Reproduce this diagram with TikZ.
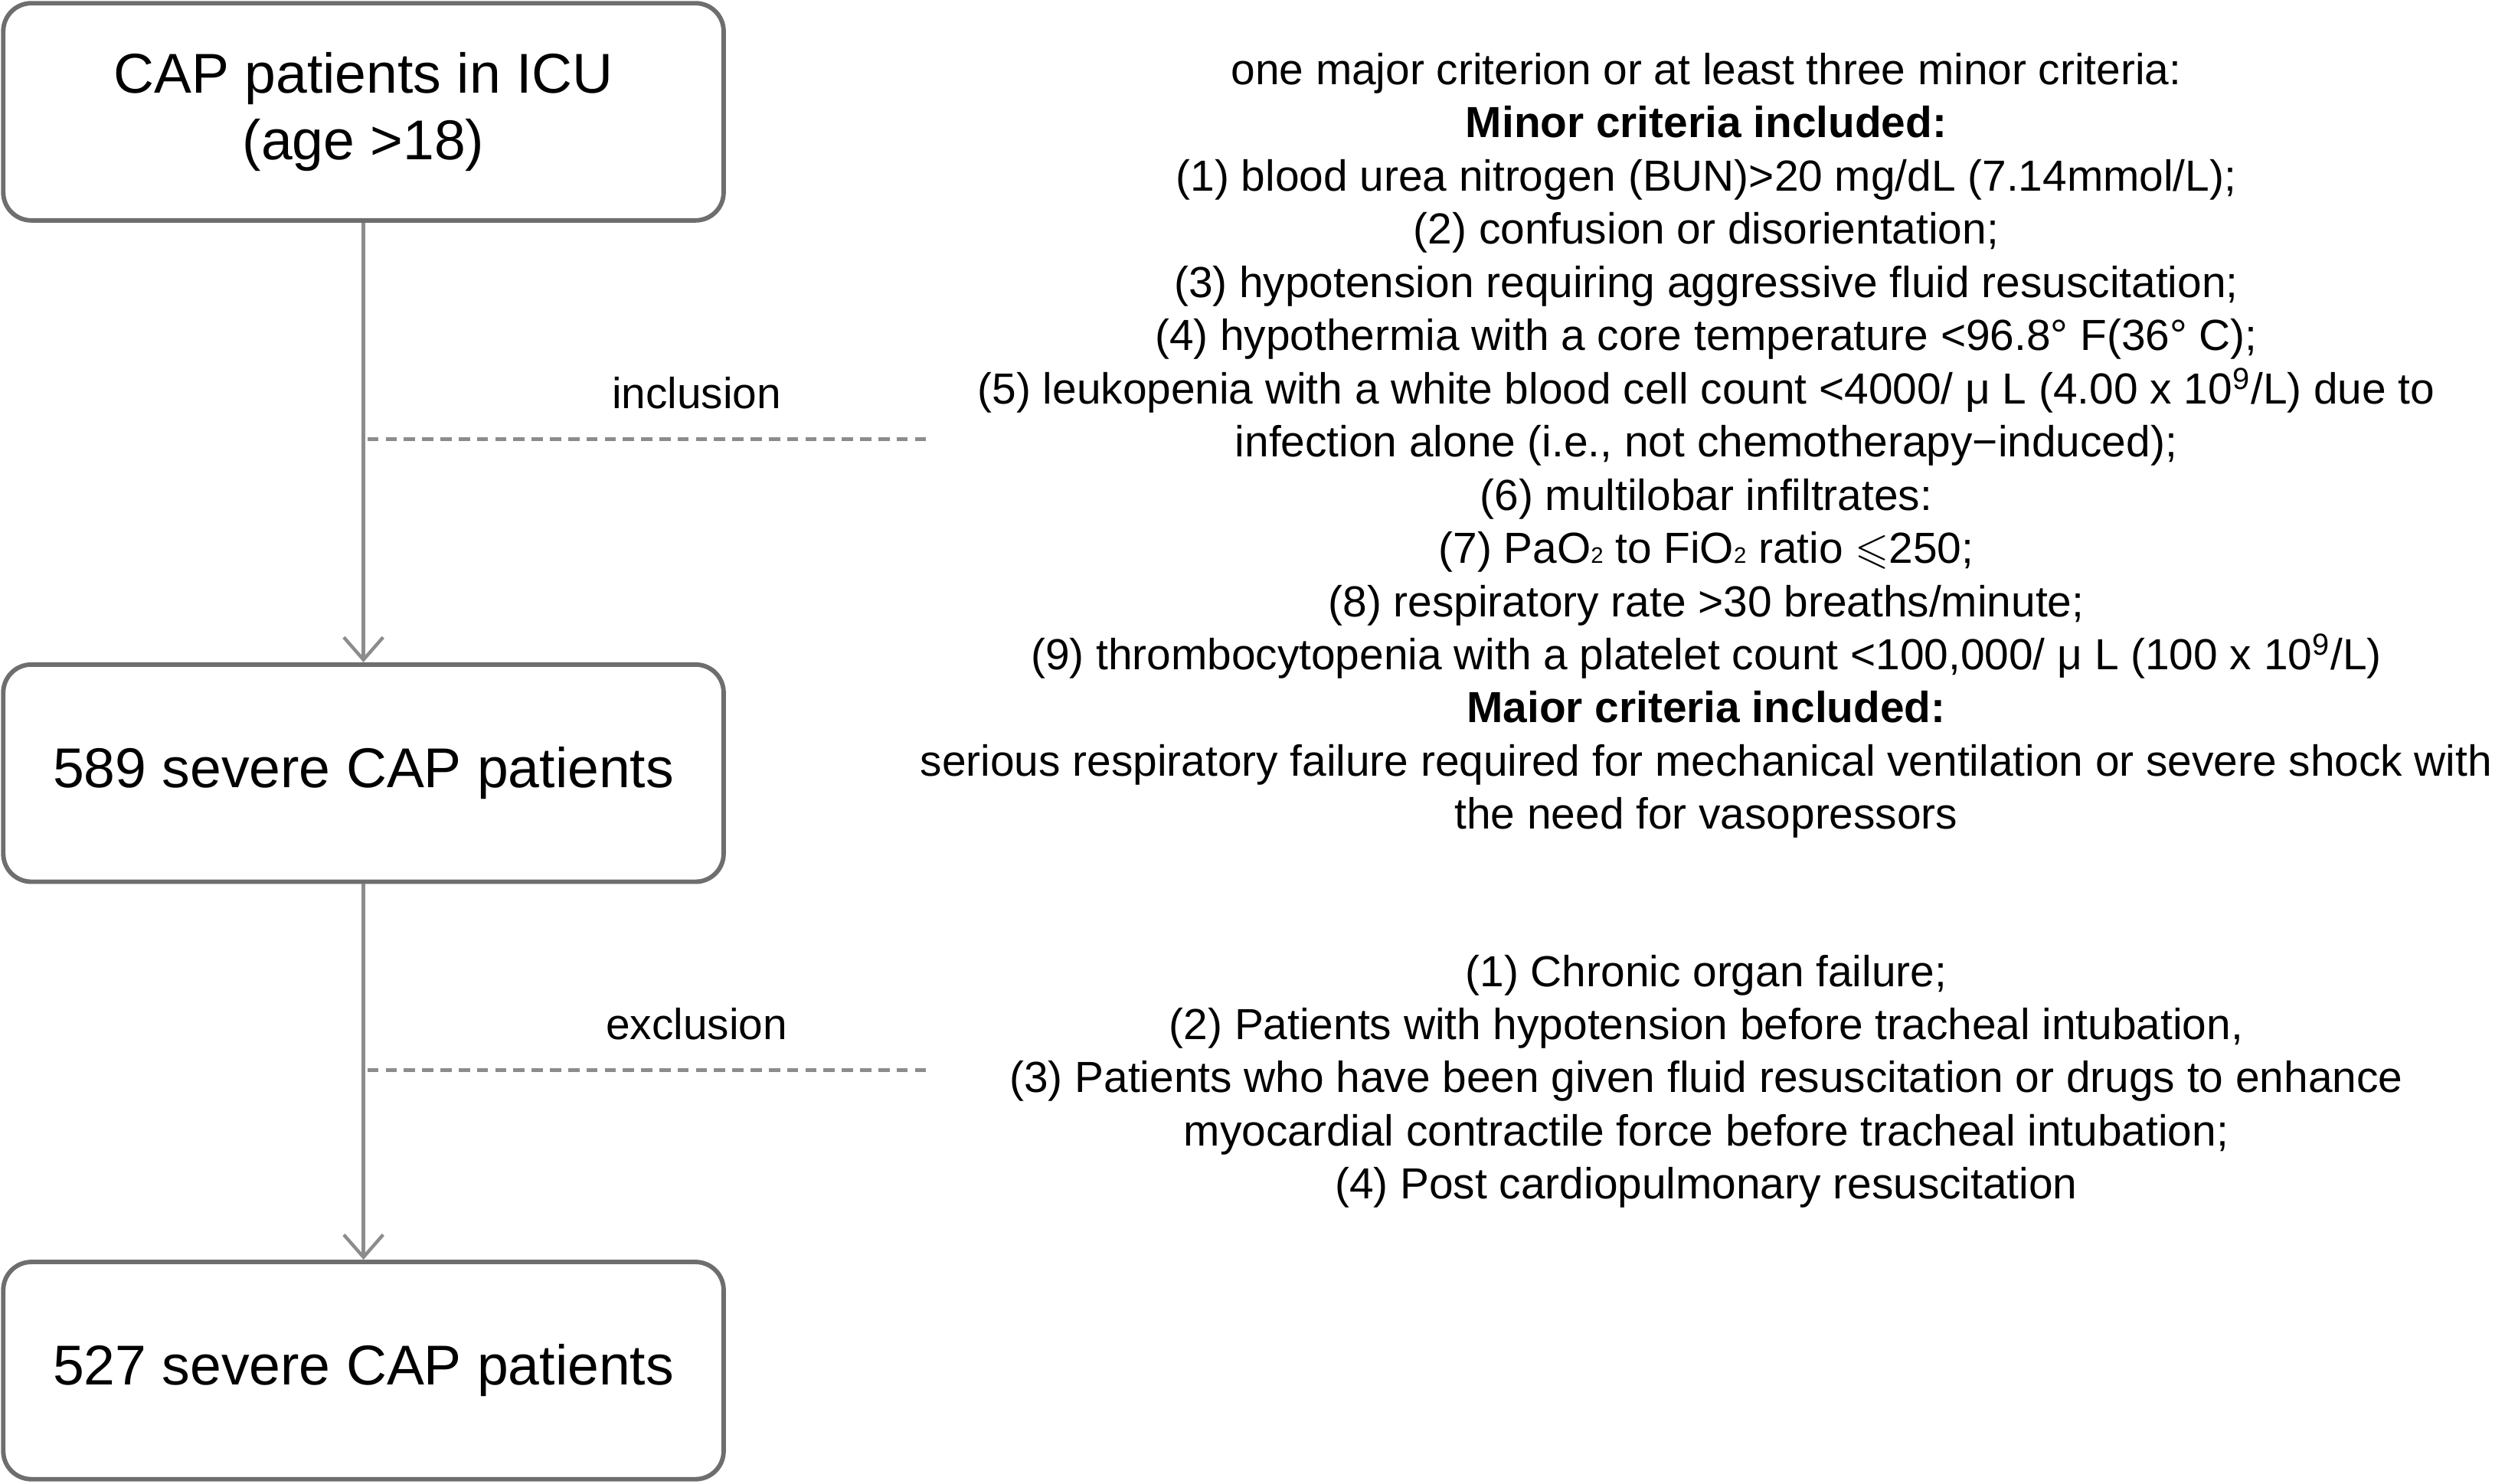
\documentclass[tikz,border=0pt]{standalone}
\usepackage{amssymb}
\usepackage{fontspec}
\setmainfont{Liberation Sans}
\usetikzlibrary{arrows.meta,positioning}
\definecolor{framegray}{RGB}{110,110,110}
\definecolor{linegray}{RGB}{140,140,140}
\tikzset{
  stepbox/.style={draw=framegray,line width=1.6pt,rounded corners=10pt,minimum width=9.02cm,minimum height=2.72cm,align=center,font=\fontsize{20}{23.5}\selectfont},
  flow/.style={draw=linegray,line width=1.2pt,-{Straight Barb[length=8pt,width=14pt]}},
  branch/.style={draw=linegray,line width=1.2pt,dashed,dash pattern=on 4pt off 2.5pt},
  crit/.style={align=center,font=\fontsize{15.5}{18.95}\selectfont}
}
\begin{document}
\begin{tikzpicture}[x=0.02cm,y=-0.02cm]
  \useasboundingbox (0,0) rectangle (1568,929);

  % boxes
  \node[stepbox] (icu) at (227.5,70) {CAP patients in ICU\\(age >18)};
  \node[stepbox] (severe) at (227.5,484) {589 severe CAP patients};
  \node[stepbox] (final) at (227.5,858) {527 severe CAP patients};

  % flow
  \draw[flow] (icu) -- (severe);
  \draw[flow] (severe) -- (final);

  % inclusion
  \coordinate (incA) at (230,275);
  \coordinate (incB) at (580,275);
  \draw[branch] (incA) -- (incB);
  \node[crit] (inclab) at (436,246) {inclusion};
  \node[crit] (inctext) at (1068,279) {one major criterion or at least three minor criteria:\\
    \textbf{Minor criteria included:}\\
    (1) blood urea nitrogen (BUN)>20 mg/dL (7.14mmol/L);\\
    (2) confusion or disorientation;\\
    (3) hypotension requiring aggressive fluid resuscitation;\\
    (4) hypothermia with a core temperature <96.8° F(36° C);\\
    (5) leukopenia with a white blood cell count <4000/ μ L (4.00 x 10\textsuperscript{9}/L) due to\\
    infection alone (i.e., not chemotherapy−induced);\\
    (6) multilobar infiltrates:\\
    (7) PaO{\footnotesize 2} to FiO{\footnotesize 2} ratio $\leqslant$250;\\
    (8) respiratory rate >30 breaths/minute;\\
    (9) thrombocytopenia with a platelet count <100,000/ μ L (100 x 10\textsuperscript{9}/L)\\
    \textbf{Maior criteria included:}\\
    serious respiratory failure required for mechanical ventilation or severe shock with\\
    the need for vasopressors};

  % exclusion
  \coordinate (excA) at (230,670);
  \coordinate (excB) at (580,670);
  \draw[branch] (excA) -- (excB);
  \node[crit] (exclab) at (436,641) {exclusion};
  \node[crit] (exctext) at (1068,677) {(1) Chronic organ failure;\\
    (2) Patients with hypotension before tracheal intubation,\\
    (3) Patients who have been given fluid resuscitation or drugs to enhance\\
    myocardial contractile force before tracheal intubation;\\
    (4) Post cardiopulmonary resuscitation};
\end{tikzpicture}
\end{document}
